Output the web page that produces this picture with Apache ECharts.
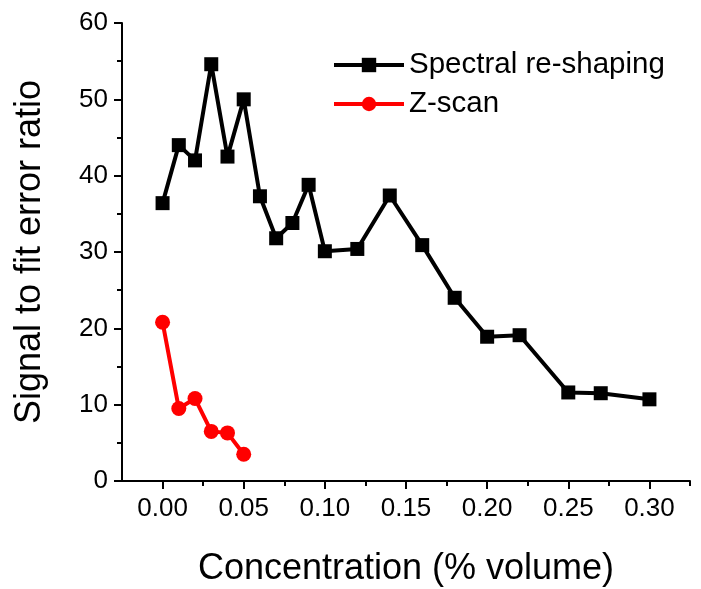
<!DOCTYPE html>
<html>
<head>
<meta charset="utf-8">
<script src="https://cdn.jsdelivr.net/npm/echarts@6/dist/echarts.min.js"></script>
<style>
	html, body { margin: 0; padding: 0; background: #fff; }
	#chart { width: 701px; height: 589px; }
</style>
</head>
<body>
<div id="chart"></div>
<script>
	/* 数据 */
	const spectralX = [0, 0.01, 0.02, 0.03, 0.04, 0.05, 0.06, 0.07, 0.08, 0.09, 0.10, 0.12, 0.14, 0.16, 0.18, 0.20, 0.22, 0.25, 0.27, 0.30];
	const spectralY = [36.4, 44.0, 42.0, 54.6, 42.5, 50.0, 37.3, 31.8, 33.8, 38.8, 30.1, 30.4, 37.4, 30.9, 24.0, 18.9, 19.1, 11.6, 11.5, 10.7];
	const zscanX = [0, 0.01, 0.02, 0.03, 0.04, 0.05];
	const zscanY = [20.8, 9.5, 10.8, 6.5, 6.3, 3.5];
	const xMajorTicks = [0, 0.05, 0.10, 0.15, 0.20, 0.25, 0.30];
	const xMinorTicks = [0.025, 0.075, 0.125, 0.175, 0.225, 0.275, 0.325];
	const seriesNames = ['Spectral re-shaping', 'Z-scan'];

	const font = 'Liberation Sans, Arial, sans-serif';
	const zip = (xs, ys) => xs.map((x, i) => [x, ys[i]]);

	document.addEventListener('DOMContentLoaded', () => {
		const chart = echarts.init(document.querySelector('#chart'), null, { renderer: 'canvas' });
		chart.setOption({
			animation: false,
			grid: {
				left: 122,
				right: 11,
				top: 23,
				bottom: 108,
				containLabel: false,
				outerBoundsMode: 'none'
			},
			legend: {
				orient: 'vertical',
				left: 332,
				top: 50,
				padding: 0,
				itemWidth: 70,
				itemHeight: 18,
				itemGap: 9,
				data: seriesNames,
				lineStyle: { width: 4 },
				textStyle: {
					fontFamily: font,
					fontSize: 29.5,
					color: '#000'
				}
			},
			xAxis: [
				{
					type: 'value',
					min: -0.025,
					max: 0.325,
					name: 'Concentration (% volume)',
					nameLocation: 'middle',
					nameGap: 70,
					nameTextStyle: {
						fontFamily: font,
						fontSize: 36,
						color: '#000'
					},
					splitLine: { show: false },
					axisLine: {
						onZero: false,
						lineStyle: { color: '#000', width: 2 }
					},
					axisTick: {
						length: 8,
						customValues: xMajorTicks,
						lineStyle: { color: '#000', width: 2 }
					},
					axisLabel: {
						customValues: xMajorTicks,
						margin: 15,
						fontFamily: font,
						fontSize: 26,
						color: '#000',
						formatter: v => v.toFixed(2)
					}
				},
				{
					type: 'value',
					min: -0.025,
					max: 0.325,
					position: 'bottom',
					splitLine: { show: false },
					axisLine: { show: false },
					axisLabel: { show: false },
					axisTick: {
						length: 5,
						customValues: xMinorTicks,
						lineStyle: { color: '#000', width: 2 }
					}
				}
			],
			yAxis: {
				type: 'value',
				min: 0,
				max: 60,
				interval: 10,
				name: 'Signal to fit error ratio',
				nameLocation: 'middle',
				nameGap: 74,
				nameTextStyle: {
					fontFamily: font,
					fontSize: 36,
					color: '#000'
				},
				splitLine: { show: false },
				axisLine: {
					show: true,
					onZero: false,
					lineStyle: { color: '#000', width: 2 }
				},
				axisTick: {
					show: true,
					length: 8,
					lineStyle: { color: '#000', width: 2 }
				},
				minorTick: {
					show: true,
					splitNumber: 2,
					length: 5,
					lineStyle: { color: '#000', width: 2 }
				},
				axisLabel: {
					margin: 14,
					fontFamily: font,
					fontSize: 26,
					color: '#000'
				}
			},
			series: [
				{
					name: seriesNames[0],
					type: 'line',
					data: zip(spectralX, spectralY),
					symbol: 'rect',
					symbolSize: 14,
					color: '#000',
					lineStyle: { width: 4, color: '#000' },
					itemStyle: { color: '#000' }
				},
				{
					name: seriesNames[1],
					type: 'line',
					data: zip(zscanX, zscanY),
					symbol: 'circle',
					symbolSize: 15,
					color: '#f00',
					lineStyle: { width: 4, color: '#f00' },
					itemStyle: { color: '#f00' }
				}
			]
		});
	});
</script>
</body>
</html>
